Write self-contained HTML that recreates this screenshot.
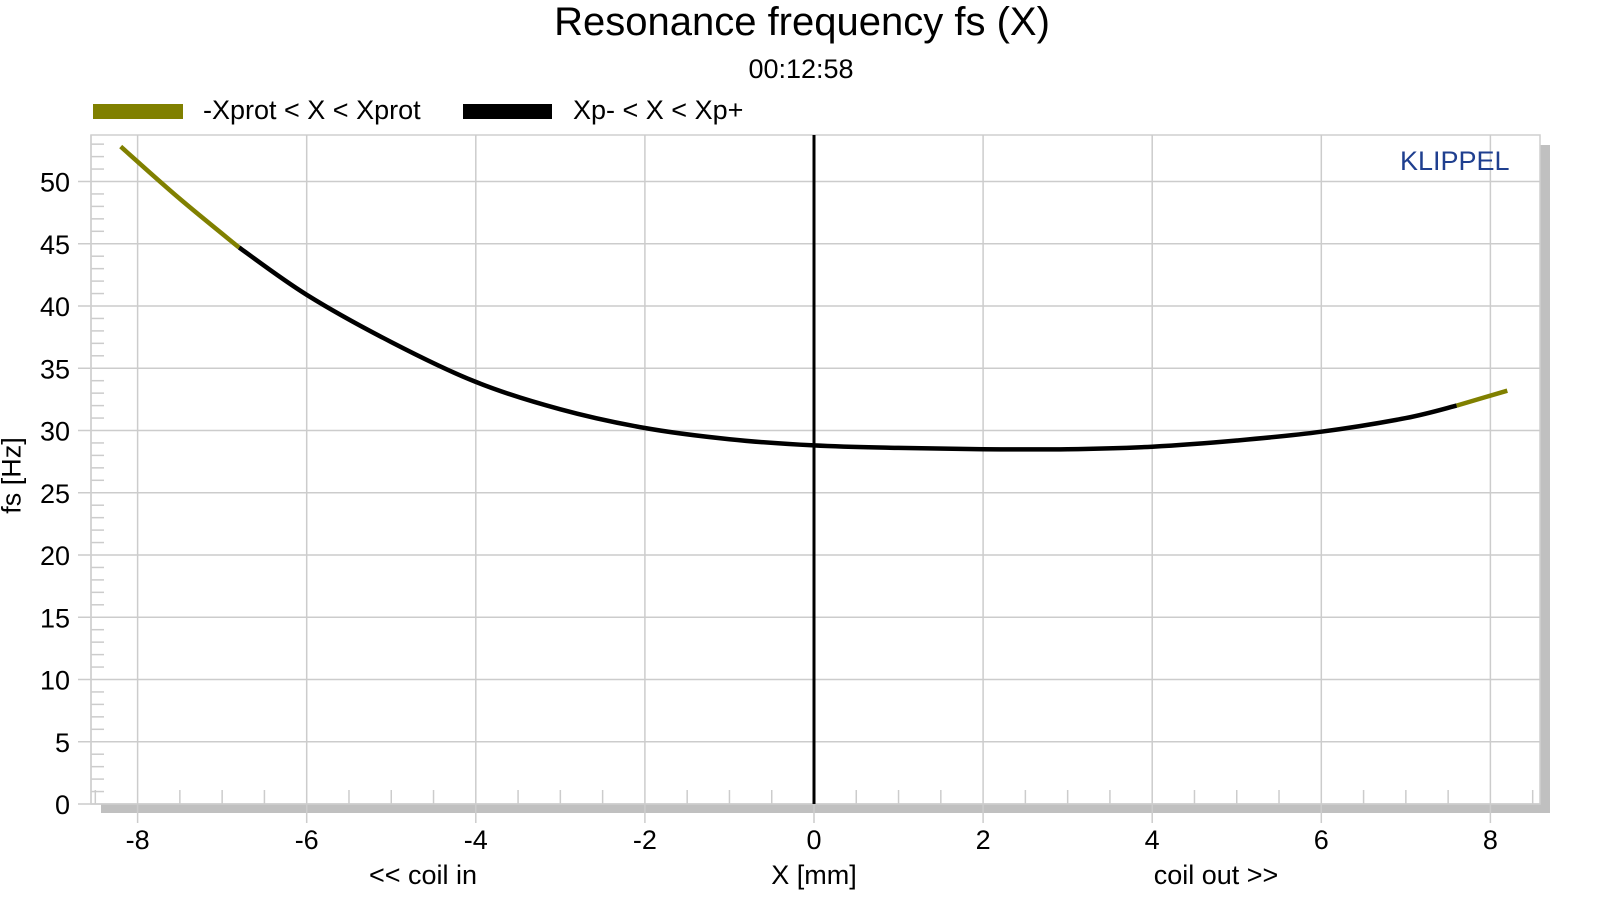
<!DOCTYPE html>
<html><head><meta charset="utf-8"><style>
body{margin:0;background:#fff;}
svg{display:block;font-family:"Liberation Sans",sans-serif;}
</style></head><body>
<svg id="c" width="1600" height="900"></svg>
<script>
const xs=[-8.2,-7.5,-6.8,-6,-5,-4,-3,-2,-1,0,1,2,3,4,5,6,7,7.6,8.2];
const fsVals=[52.8,48.6,44.7,40.9,37.1,33.9,31.7,30.2,29.3,28.8,28.6,28.5,28.5,28.7,29.2,29.9,31.0,32.0,33.2];
const xTicks=[-8,-6,-4,-2,0,2,4,6,8];
const yTicks=[0,5,10,15,20,25,30,35,40,45,50];
const xpLimits=[-6.8,7.6];
const NS="http://www.w3.org/2000/svg";
const svg=document.getElementById('c');
const L=91,R=1540,T=135,B=804;
const X=v=>814+v*84.55, Y=v=>804-v*12.45;
function el(t,a,p){const e=document.createElementNS(NS,t);for(const k in a)e.setAttribute(k,a[k]);(p||svg).appendChild(e);return e;}
let s=el('rect',{x:R,y:145,width:10,height:B-145+9,fill:'#c0c0c0'});


s=el('rect',{x:101,y:B,width:R+10-101,height:9,fill:'#c0c0c0'});


let f=el('rect',{x:L,y:T,width:R-L,height:B-T,fill:'none',stroke:'#cfcfcf','stroke-width':1.5});


yTicks.forEach(v=>{
 const g=el('line',{x1:78,x2:R,y1:Y(v),y2:Y(v),stroke:'#cccccc','stroke-width':1.5});
 
 
 const t=el('text',{x:70,y:Y(v)+10,'text-anchor':'end','font-size':27,fill:'#000'});t.textContent=v;
 
 
});
for(let v=1;v<=53;v++){if(v%5===0)continue;const m=el('line',{x1:L,x2:104,y1:Y(v),y2:Y(v),stroke:'#cccccc','stroke-width':1.5});
 
 }
xTicks.forEach(v=>{
 const g=el('line',{x1:X(v),x2:X(v),y1:T,y2:823,stroke:'#cccccc','stroke-width':1.5});
 
 
 const t=el('text',{x:X(v),y:858,'text-anchor':'middle','font-size':27,fill:'#000'});t.textContent=v;
 
 
 t.setAttribute('transform','translate(0,-9)');
});
for(let v=-8.5;v<=8.6;v+=0.5){if(Number.isInteger(v)&&v%2===0)continue;const m=el('line',{x1:X(v),x2:X(v),y1:790,y2:B,stroke:'#cccccc','stroke-width':1.5});
 
 }
el('line',{x1:L,x2:L,y1:T,y2:B,stroke:'#cfcfcf','stroke-width':1.5});
let z=el('line',{x1:X(0),x2:X(0),y1:T,y2:B,stroke:'#000','stroke-width':3});


function smoothPath(px){
 let d='M'+px[0][0].toFixed(1)+','+px[0][1].toFixed(1);
 for(let i=0;i<px.length-1;i++){
  const p0=px[Math.max(0,i-1)],p1=px[i],p2=px[i+1],p3=px[Math.min(px.length-1,i+2)];
  const c1=[p1[0]+(p2[0]-p0[0])/6,p1[1]+(p2[1]-p0[1])/6];
  const c2=[p2[0]-(p3[0]-p1[0])/6,p2[1]-(p3[1]-p1[1])/6];
  d+=' C'+c1[0].toFixed(1)+','+c1[1].toFixed(1)+' '+c2[0].toFixed(1)+','+c2[1].toFixed(1)+' '+p2[0].toFixed(1)+','+p2[1].toFixed(1);
 }
 return d;
}
function seg(filterFn,color,name){
 const pts=[];xs.forEach((x,i)=>{if(filterFn(x))pts.push([X(x),Y(fsVals[i])]);});
 const p=el('path',{d:smoothPath(pts),fill:'none',stroke:color,'stroke-width':4.5,'stroke-linecap':'butt'});
 
 
}
seg(x=>x<=xpLimits[0],'#808000','curve-xprot-left');
seg(x=>x>=xpLimits[1],'#808000','curve-xprot-right');
seg(x=>x>=xpLimits[0]&&x<=xpLimits[1],'#000000','curve-xp');
</script>
<div style="position:absolute;left:0;top:0;width:1600px;height:900px;pointer-events:none;font-family:'Liberation Sans',sans-serif;">
<div style="position:absolute;left:0;width:1604px;top:0px;text-align:center;font-size:40px;">Resonance frequency fs (X)</div>
<div style="position:absolute;left:0;width:1602px;top:54px;text-align:center;font-size:27px;">00:12:58</div>
<div style="position:absolute;left:93px;top:95px;">
 <span style="position:absolute;left:0;top:9px;width:90px;height:15px;background:#808000;"></span>
 <span style="position:absolute;left:110px;top:0;font-size:27px;white-space:nowrap;">-Xprot &lt; X &lt; Xprot</span>
</div>
<div style="position:absolute;left:463px;top:95px;">
 <span style="position:absolute;left:0;top:9px;width:89px;height:15px;background:#000;"></span>
 <span style="position:absolute;left:110px;top:0;font-size:27px;white-space:nowrap;">Xp- &lt; X &lt; Xp+</span>
</div>
<div style="position:absolute;left:1400px;top:146px;font-size:27px;color:#1f3f8f;">KLIPPEL</div>
<div style="position:absolute;left:-30px;top:460px;width:84px;text-align:center;font-size:27px;transform:rotate(-90deg);">fs [Hz]</div>
<div style="position:absolute;left:714px;width:200px;top:860px;text-align:center;font-size:27px;">X [mm]</div>
<div style="position:absolute;left:323px;width:200px;top:860px;text-align:center;font-size:27px;">&lt;&lt; coil in</div>
<div style="position:absolute;left:1116px;width:200px;top:860px;text-align:center;font-size:27px;">coil out &gt;&gt;</div>
</div>
</body></html>
